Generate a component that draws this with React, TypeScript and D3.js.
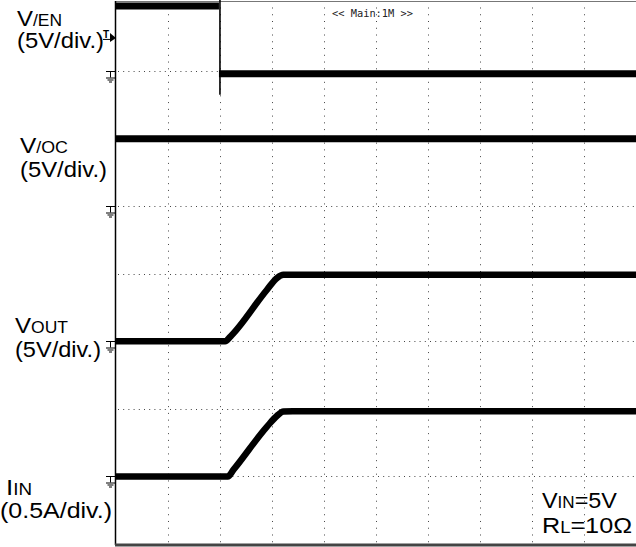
import React from "react";
import * as d3 from "d3";

// ---- data (time in ms, 1 ms/div; amplitude in channel units) ----
const timeDomain = [0, 10];
const divDomain = [0, 8];

// V/EN : high level, falling edge, low level
const enTime = [0, 1.98, 1.98, 10];
const enLevel = [4.81, 4.81, -0.19, -0.19];
const enEdge = [5.3, -1.75]; // edge spike extent (V)
const enTrigger = 2.6;

// V/OC
const ocTime = [0, 10];
const ocLevel = [5.0, 5.0];

// VOUT
const outTime = [0, 2.1, 2.2, 2.9, 3.1, 3.22, 3.4, 10];
const outLevel = [0, 0, 0.35, 3.8, 4.7, 4.92, 4.93, 4.93];

// IIN
const inTime = [0, 2.15, 2.26, 2.9, 3.1, 3.22, 3.4, 10];
const inLevel = [0, 0, 0.05, 0.367, 0.45, 0.48, 0.482, 0.482];

// channel offsets (divisions from bottom) and scale (units/div)
const channelNames = ["V/EN", "V/OC", "VOUT", "IIN"];
const channelOffsets = [7, 5, 3, 1];
const channelPerDiv = [5, 5, 5, 0.5];

const W = 636;
const H = 547;
const L = 116;
const R = 636;
const T = 3.5;
const B = 544;

const x = d3.scaleLinear().domain(timeDomain).range([L, R]);
const yDiv = d3.scaleLinear().domain(divDomain).range([B, T]);
const chY = (i: number) => (v: number) => yDiv(channelOffsets[i] + v / channelPerDiv[i]);

const FONT = "'Liberation Sans', Arial, sans-serif";

function GroundMark({ y }: { y: number }) {
  return (
    <g stroke="#000" strokeWidth={1} fill="none">
      <line x1={106} x2={116} y1={y} y2={y} />
      <line x1={110.5} x2={110.5} y1={y} y2={y + 6} />
      <line x1={106} x2={115} y1={y + 6.5} y2={y + 6.5} />
      <line x1={107.5} x2={113.5} y1={y + 8.5} y2={y + 8.5} />
      <line x1={109} x2={112} y1={y + 10.5} y2={y + 10.5} />
    </g>
  );
}

function Label({ x0, y0, big, small, rest, len, size = 22, smallSize = 16 }: any) {
  return (
    <text
      x={x0}
      y={y0}
      fontFamily={FONT}
      fontSize={size}
      fill="#000"
      textLength={len}
      lengthAdjust="spacingAndGlyphs"
    >
      {big}
      <tspan fontSize={smallSize}>{small}</tspan>
      {rest ? <tspan>{rest}</tspan> : null}
    </text>
  );
}

function Plain({ x0, y0, s, len }: any) {
  return (
    <text x={x0} y={y0} fontFamily={FONT} fontSize={22} fill="#000" textLength={len} lengthAdjust="spacingAndGlyphs">
      {s}
    </text>
  );
}

export default function App() {
  const vTicks = d3.range(1, 10);
  const hTicks = d3.range(1, 8);
  const line = (xs: number[], ys: number[], yf: (v: number) => number) =>
    d3
      .line<number>()
      .x((_, i) => x(xs[i]))
      .y((d) => yf(d))
      .curve(d3.curveMonotoneX)(ys) as string;

  const yEn = chY(0);
  const yOc = chY(1);
  const yOut = chY(2);
  const yIn = chY(3);
  const hDiv = (B - T) / 8;
  const wDiv = (R - L) / 10;
  const trY = yEn(enTrigger);

  return (
    <svg width={W} height={H} style={{ position: "absolute", left: 0, top: 0, background: "#fff" }}>
      <rect x={0} y={0} width={W} height={H} fill="#fff" />
      {/* grid */}
      <g stroke="#444" strokeWidth={1}>
        {vTicks.map((t) => (
          <line
            key={"v" + t}
            x1={Math.round(x(t)) + 0.5}
            x2={Math.round(x(t)) + 0.5}
            y1={T + 4}
            y2={B}
            strokeDasharray={`1 ${hDiv / 10 - 1}`}
          />
        ))}
        {hTicks.map((d) => (
          <line
            key={"h" + d}
            x1={L + 2}
            x2={R}
            y1={Math.round(yDiv(d)) + 0.5}
            y2={Math.round(yDiv(d)) + 0.5}
            strokeDasharray={`1 ${wDiv / 10 - 1}`}
          />
        ))}
      </g>
      {/* frame */}
      <line x1={L} x2={R} y1={1.5} y2={1.5} stroke="#777" strokeWidth={1} />
      <line x1={L - 0.5} x2={L - 0.5} y1={1} y2={B + 1} stroke="#000" strokeWidth={1.5} />
      <line x1={L - 1} x2={R} y1={B + 1} y2={B + 1} stroke="#444" strokeWidth={3} />

      {/* V/EN trace */}
      <g stroke="#000" fill="none">
        <path d={line(enTime.slice(0, 2), enLevel.slice(0, 2), yEn)} strokeWidth={7} />
        <path d={line(enTime.slice(2), enLevel.slice(2), yEn)} strokeWidth={7} />
        <line
          x1={x(enTime[1]) + 1}
          x2={x(enTime[1]) + 1}
          y1={yEn(enEdge[0])}
          y2={yEn(enEdge[1])}
          strokeWidth={1.6}
        />
      </g>
      {/* V/OC */}
      <path d={line(ocTime, ocLevel, yOc)} stroke="#000" strokeWidth={7} fill="none" />
      {/* VOUT */}
      <path d={line(outTime, outLevel, yOut)} stroke="#000" strokeWidth={6.5} fill="none" strokeLinejoin="round" />
      {/* IIN */}
      <path d={line(inTime, inLevel, yIn)} stroke="#000" strokeWidth={6.5} fill="none" strokeLinejoin="round" />

      {/* ground markers */}
      {channelNames.map((n, i) => (
        <GroundMark key={n} y={Math.round(chY(i)(0)) + 0.5} />
      ))}
      {/* trigger marker */}
      <text x={103} y={trY + 2} fontFamily={FONT} fontSize={10} fontWeight="bold" fill="#000">
        T
      </text>
      <line x1={103} x2={110} y1={trY + 3.5} y2={trY + 3.5} stroke="#000" strokeWidth={1} />
      <path d={`M${L - 6},${trY - 3} L${L},${trY + 2} L${L - 6},${trY + 6} Z`} fill="#000" />

      {/* header */}
      <text
        x={332}
        y={17}
        fontFamily="'DejaVu Sans Mono', monospace"
        fontSize={11}
        fill="#222"
        textLength={81}
        lengthAdjust="spacingAndGlyphs"
      >
        {"<< Main:1M >>"}
      </text>

      {/* labels */}
      <Label x0={17} y0={26} big="V" small="/EN" len={45} />
      <Plain x0={17} y0={48} s="(5V/div.)" len={87} />
      <Label x0={20} y0={153} big="V" small="/OC" len={48} />
      <Plain x0={20} y0={177} s="(5V/div.)" len={87} />
      <Label x0={15} y0={333} big="V" small="OUT" len={53} />
      <Plain x0={15} y0={357} s="(5V/div.)" len={86} />
      <Label x0={6} y0={495} big="I" small="IN" len={26} />
      <Plain x0={0} y0={518} s="(0.5A/div.)" len={112} />
      <Label x0={542} y0={508} big="V" small="IN" rest="=5V" len={75} />
      <Label x0={542} y0={533} big="R" small="L" rest="=10Ω" len={90} />
    </svg>
  );
}
